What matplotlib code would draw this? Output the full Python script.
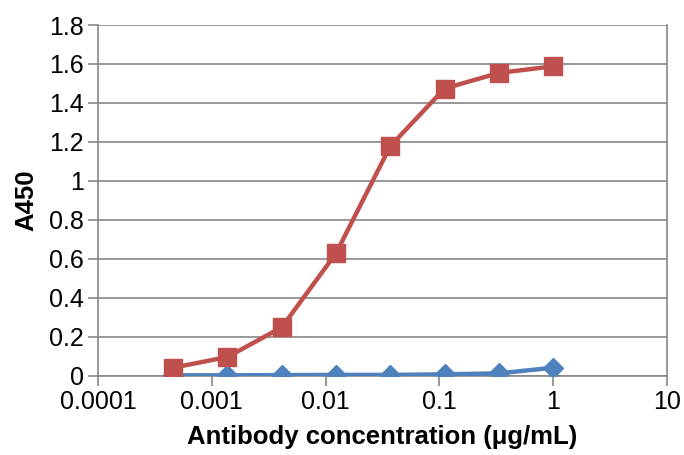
import numpy as np
import matplotlib
matplotlib.use("Agg")
import matplotlib.pyplot as plt
from matplotlib.ticker import FixedLocator, FixedFormatter, NullLocator

plt.rcParams['font.family'] = ['Liberation Sans', 'DejaVu Sans']

# 1:3 dilution series starting at 1 ug/mL
conc = [1/2187, 1/729, 1/243, 1/81, 1/27, 1/9, 1/3, 1.0]
a450_red = [0.041, 0.096, 0.248, 0.628, 1.178, 1.474, 1.554, 1.588]
a450_blue = [0.002, 0.002, 0.003, 0.004, 0.004, 0.007, 0.012, 0.041]

xticks = [0.0001, 0.001, 0.01, 0.1, 1, 10]
xlabels = ["0.0001", "0.001", "0.01", "0.1", "1", "10"]
yticks = [0, 0.2, 0.4, 0.6, 0.8, 1.0, 1.2, 1.4, 1.6, 1.8]
ylabels = ["0", "0.2", "0.4", "0.6", "0.8", "1", "1.2", "1.4", "1.6", "1.8"]

grey = "#868686"

fig = plt.figure(figsize=(6.84, 4.55), dpi=100)
ax = fig.add_axes([0.1433, 0.1743, 0.975 - 0.1433, 0.945 - 0.1743])

ax.plot(conc, a450_blue, color="#4F81BD", lw=3.2, marker="D", ms=10.5,
        markeredgecolor="#4F81BD", zorder=3)
ax.plot(conc, a450_red, color="#C0504D", lw=3.2, marker="s", ms=13,
        markeredgecolor="#C0504D", zorder=4)

ax.set_xscale("log")
ax.set_xlim(0.0001, 10)
ax.set_ylim(0, 1.8)
ax.xaxis.set_major_locator(FixedLocator(xticks))
ax.xaxis.set_major_formatter(FixedFormatter(xlabels))
ax.xaxis.set_minor_locator(NullLocator())
ax.set_yticks(yticks)
ax.set_yticklabels(ylabels)

ax.grid(axis="y", color=grey, lw=1.2)
ax.set_axisbelow(True)
for s in ["left", "bottom", "right"]:
    ax.spines[s].set_color(grey)
    ax.spines[s].set_linewidth(1.2)
ax.spines["top"].set_visible(False)

ax.tick_params(axis="both", direction="out", length=7, width=1.2, color=grey,
               labelsize=18, pad=3)

ax.set_xlabel("Antibody concentration (\u03bcg/mL)", fontsize=18.5, fontweight="bold", labelpad=8)
ax.set_ylabel("A450", fontsize=18.5, fontweight="bold", labelpad=8)

fig.savefig("out.png", dpi=100)
